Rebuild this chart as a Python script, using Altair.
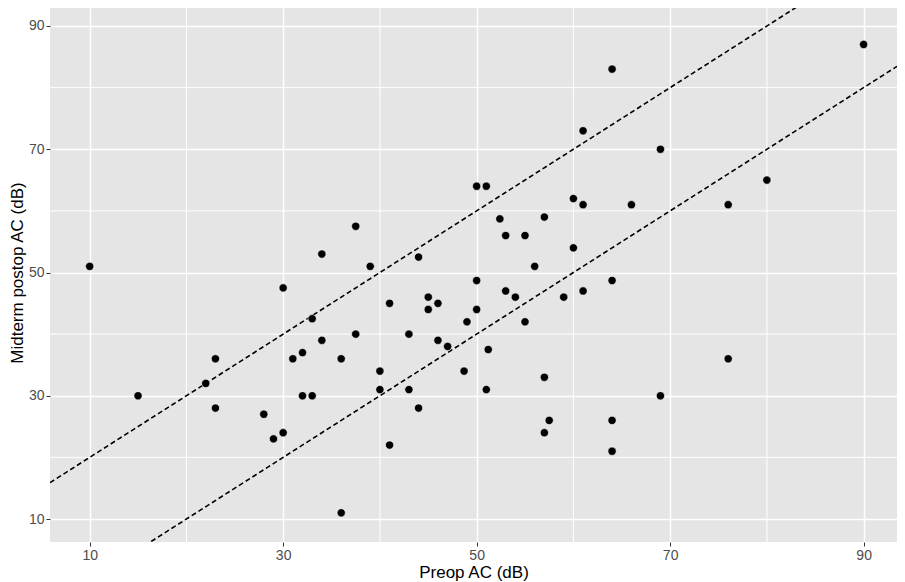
import altair as alt
import pandas as pd

# Data
preop = [10, 15, 22, 23, 23, 28, 29, 30, 31, 32, 32, 33, 33, 34, 36, 37.5, 36, 40, 40, 41,
         41, 43, 43, 44, 45, 45, 46, 46, 47, 48.7, 49, 50, 51.2, 51, 55, 57, 57.5, 57, 59, 53,
         54, 61, 34, 37.5, 39, 44, 50, 51, 52.4, 53, 55, 57, 56, 60, 60, 61, 61, 50, 30, 64,
         69, 66, 76, 80, 90, 64, 76, 69, 64, 64]
postop = [51, 30, 32, 36, 28, 27, 23, 24, 36, 37, 30, 30, 42.5, 39, 36, 40, 11, 34, 31, 45,
          22, 40, 31, 28, 46, 44, 45, 39, 38, 34, 42, 44, 37.5, 31, 42, 33, 26, 24, 46, 47,
          46, 47, 53, 57.5, 51, 52.5, 64, 64, 58.7, 56, 56, 59, 51, 54, 62, 61, 73, 48.7, 47.5, 83,
          70, 61, 61, 65, 87, 48.7, 36, 30, 26, 21]

major_breaks = [10, 30, 50, 70, 90]
minor_breaks = [20, 40, 60, 80]
line_offsets = [10, -10]   # dashed reference lines: y = x + offset
line_slope = 1

X_DOMAIN = [5.9, 93.45]
Y_DOMAIN = [6.27, 92.92]

pts = pd.DataFrame({"preop": preop, "postop": postop})

rows = []
for off in line_offsets:
    for xv in X_DOMAIN:
        rows.append({"preop": xv, "postop": line_slope * xv + off, "line": str(off)})
lines = pd.DataFrame(rows)
minor = pd.DataFrame({"v": minor_breaks})

xaxis = alt.Axis(values=major_breaks, grid=True, gridColor="white", gridWidth=1.5,
                 tickColor="#333333", tickSize=4, tickWidth=1, domain=False,
                 labelColor="#4D4D4D", labelFontSize=14, labelPadding=2, labelFont="Liberation Sans",
                 title="Preop AC (dB)", titleFontSize=17, titleFontWeight="normal",
                 titleColor="black", titleFont="Liberation Sans",
                 titleY=35, titleBaseline="alphabetic")
yaxis = alt.Axis(values=major_breaks, grid=True, gridColor="white", gridWidth=1.5,
                 tickColor="#333333", tickSize=4, tickWidth=1, domain=False,
                 labelColor="#4D4D4D", labelFontSize=14, labelPadding=2, labelFont="Liberation Sans",
                 title="Midterm postop AC (dB)", titleFontSize=17, titleFontWeight="normal",
                 titleColor="black", titleFont="Liberation Sans",
                 titleX=-33, titleY=264.5, titleAngle=270, titleBaseline="middle",
                 titleAlign="center")

xs = alt.Scale(domain=X_DOMAIN, nice=False, zero=False)
ys = alt.Scale(domain=Y_DOMAIN, nice=False, zero=False)

vminor = alt.Chart(minor).mark_rule(color="white", strokeWidth=1).encode(
    x=alt.X("v:Q", scale=xs, axis=xaxis))
hminor = alt.Chart(minor).mark_rule(color="white", strokeWidth=1).encode(
    y=alt.Y("v:Q", scale=ys, axis=yaxis))

dashed = alt.Chart(lines).mark_line(color="black", strokeWidth=1.6, strokeDash=[5, 3],
                                    clip=True).encode(
    x=alt.X("preop:Q", scale=xs, axis=xaxis),
    y=alt.Y("postop:Q", scale=ys, axis=yaxis),
    detail="line:N")

points = alt.Chart(pts).mark_point(filled=True, color="black", size=68, opacity=1,
                                   stroke="white", strokeWidth=0.6).encode(
    x=alt.X("preop:Q", scale=xs, axis=xaxis),
    y=alt.Y("postop:Q", scale=ys, axis=yaxis))

chart = alt.layer(vminor, hminor, dashed, points).properties(
    width=847, height=534,
    background="white",
    autosize=alt.AutoSizeParams(type="none"),
    padding={"left": 42, "top": 0, "right": 0, "bottom": 39},
).configure_view(fill="#E5E5E5", strokeWidth=0)

chart.save("out.html", embed_options={"renderer": "svg", "actions": False})
